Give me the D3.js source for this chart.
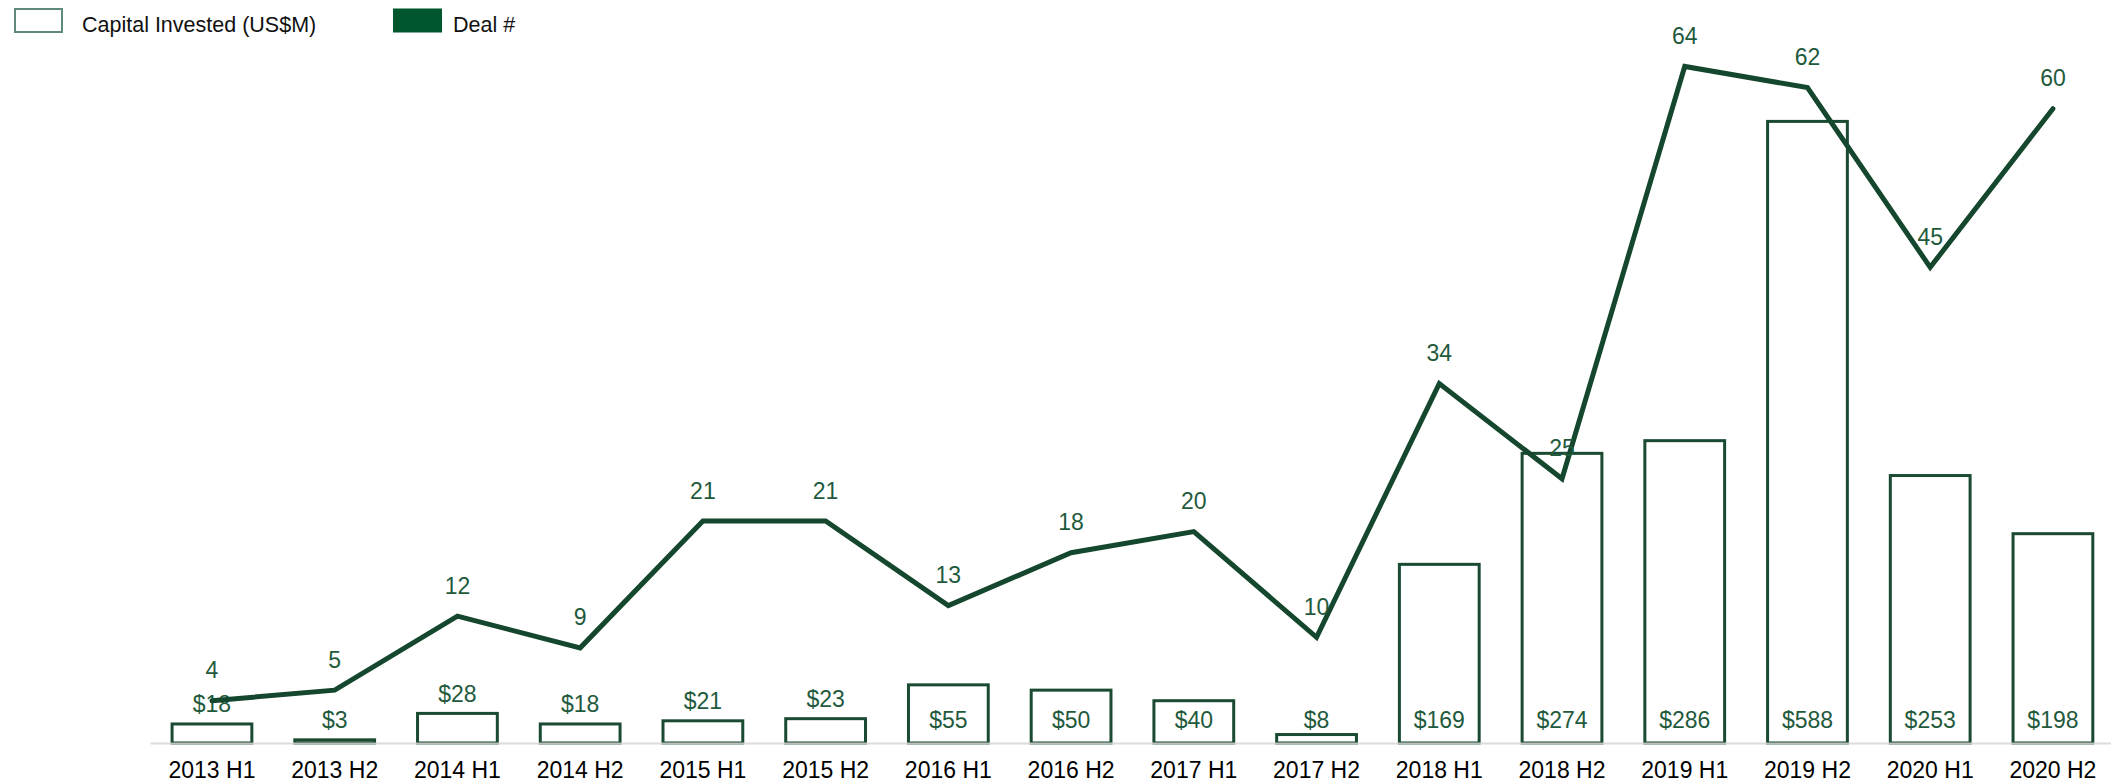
<!DOCTYPE html>
<html>
<head>
<meta charset="utf-8">
<script src="https://cdn.jsdelivr.net/npm/d3@7"></script>
<style>
  html, body { margin: 0; padding: 0; background: #ffffff; }
  svg { display: block; font-family: "Liberation Sans", Arial, sans-serif; }
</style>
</head>
<body>
<svg id="chart" width="2111" height="783"></svg>
<script>
const categories = ["2013 H1","2013 H2","2014 H1","2014 H2","2015 H1","2015 H2","2016 H1","2016 H2",
                    "2017 H1","2017 H2","2018 H1","2018 H2","2019 H1","2019 H2","2020 H1","2020 H2"];
const capitalInvested = [18, 3, 28, 18, 21, 23, 55, 50, 40, 8, 169, 274, 286, 588, 253, 198];
const dealCount = [4, 5, 12, 9, 21, 21, 13, 18, 20, 10, 34, 25, 64, 62, 45, 60];
const legendLabels = ["Capital Invested (US$M)", "Deal #"];

const W = 2111, H = 783;
const baseY = 743, topY = 3;
const svg = d3.select("#chart");

const x = d3.scaleBand().domain(categories).range([150.6, 2114.3])
  .paddingInner(0.35).paddingOuter(0.175);
const yCap = d3.scaleLinear().domain([0, 700]).range([baseY, topY]);
const yDeal = d3.scaleLinear().domain([0, 70]).range([baseY, topY]);

const lineColor = "#14472d";
const barColor = "#1a4a31";
const labelColor = "#1f5a3d";

// bars
svg.append("g").selectAll("rect").data(categories).join("rect")
  .attr("x", d => x(d))
  .attr("y", (d, i) => yCap(capitalInvested[i]))
  .attr("width", x.bandwidth())
  .attr("height", (d, i) => baseY - yCap(capitalInvested[i]))
  .attr("fill", "#ffffff")
  .attr("stroke", barColor)
  .attr("stroke-width", 3);

// x axis baseline
svg.append("line")
  .attr("x1", x.range()[0]).attr("x2", x.range()[1])
  .attr("y1", baseY + 0.5).attr("y2", baseY + 0.5)
  .attr("stroke", "#d6d6d6").attr("stroke-width", 2).attr("opacity", 0.85);

// x axis labels
const xAxis = d3.axisBottom(x).tickSize(0).tickPadding(0);
const gx = svg.append("g").attr("transform", `translate(0,${baseY})`).call(xAxis);
gx.select(".domain").remove();
gx.selectAll("text")
  .attr("y", 34.5).attr("dy", null)
  .attr("font-size", 23).attr("fill", "#000000")
  .attr("font-family", "Liberation Sans, Arial, sans-serif");

// bar value labels
svg.append("g").selectAll("text").data(categories).join("text")
  .attr("x", d => x(d) + x.bandwidth() / 2)
  .attr("y", (d, i) => {
    const v = capitalInvested[i];
    const top = yCap(v);
    const h = baseY - top;
    if (v < 10 || h > 40) return 727.5;
    return top - 11.5;
  })
  .attr("text-anchor", "middle")
  .attr("font-size", 23)
  .attr("fill", labelColor)
  .text((d, i) => "$" + capitalInvested[i]);

// deals line
const line = d3.line()
  .x((d, i) => x(categories[i]) + x.bandwidth() / 2)
  .y(d => yDeal(d));
svg.append("path")
  .datum(dealCount)
  .attr("d", line)
  .attr("fill", "none")
  .attr("stroke", lineColor)
  .attr("stroke-width", 5)
  .attr("stroke-linejoin", "miter")
  .attr("stroke-linecap", "round");

// deal labels
svg.append("g").selectAll("text").data(dealCount).join("text")
  .attr("x", (d, i) => x(categories[i]) + x.bandwidth() / 2)
  .attr("y", d => yDeal(d) - 22.5)
  .attr("text-anchor", "middle")
  .attr("font-size", 23)
  .attr("fill", labelColor)
  .text(d => d);

// legend
const lg = svg.append("g");
lg.append("rect").attr("x", 15).attr("y", 9).attr("width", 47).attr("height", 23)
  .attr("fill", "#ffffff").attr("stroke", "#5f8a7a").attr("stroke-width", 2);
lg.append("text").attr("x", 82).attr("y", 32).attr("font-size", 21.5).attr("fill", "#111111")
  .text(legendLabels[0]);
lg.append("rect").attr("x", 393).attr("y", 8.5).attr("width", 49).attr("height", 24)
  .attr("fill", "#00572e");
lg.append("text").attr("x", 453).attr("y", 32).attr("font-size", 21.5).attr("fill", "#111111")
  .text(legendLabels[1]);
</script>
</body>
</html>
